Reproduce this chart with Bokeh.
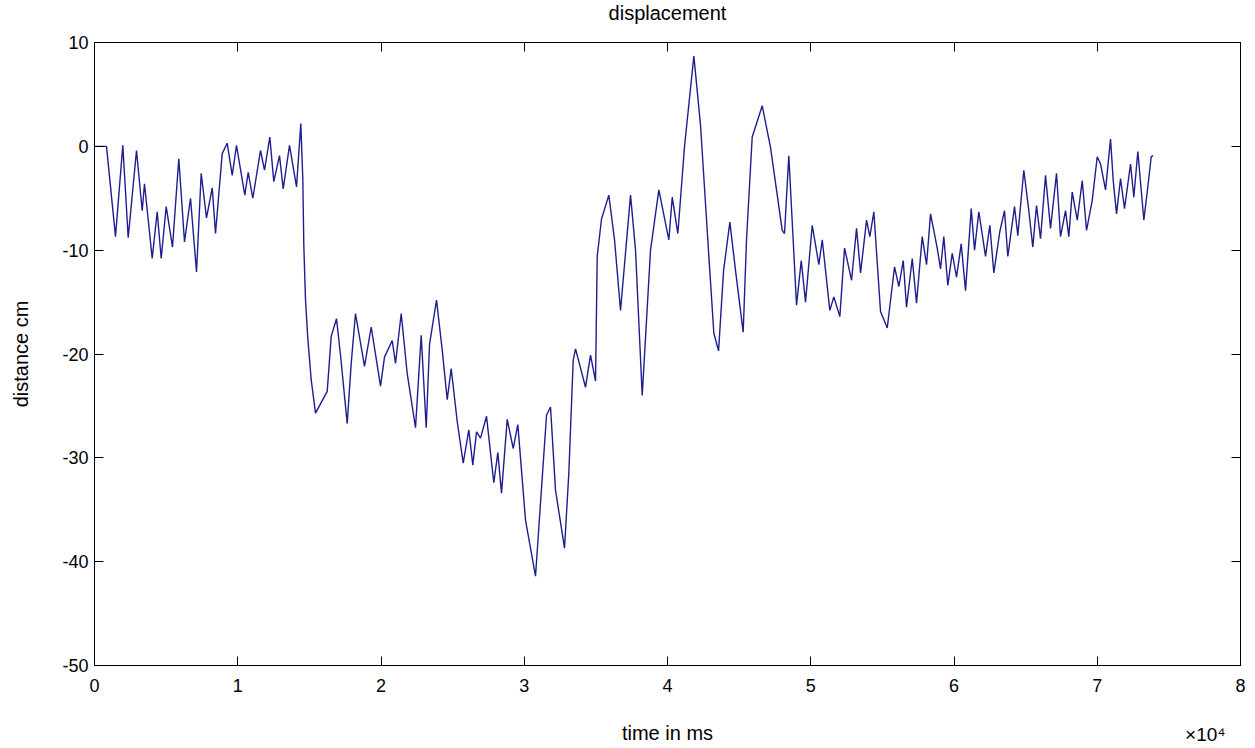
from bokeh.plotting import figure
from bokeh.models import LinearAxis, FixedTicker, Range1d, Title
from bokeh.embed import file_html
from bokeh.resources import INLINE

# time in ms and displacement in cm
time_ms = [0, 838, 1466, 1976, 2353, 2932, 3330, 3490, 4028, 4377, 4656, 5005, 5445, 5885,
           6283, 6702, 7121, 7449, 7819, 8217, 8447, 8915, 9264, 9613, 9913, 10492, 10730,
           11051, 11588, 11868, 12238, 12517, 12915, 13173, 13613, 14102, 14402,
           14541, 14611, 14730, 14891, 15128, 15428, 16245, 16524, 16894, 17173, 17641,
           17920, 18220, 18849, 19316, 19966, 20245, 20782, 21013, 21411, 21830, 22409,
           22807, 23156, 23386, 23875, 24273, 24622, 24901, 25320, 25739, 26130, 26409,
           26668, 26947, 27366, 27875, 28155, 28413, 28811, 29230, 29551, 30088, 30786,
           31554, 31833, 32182, 32810, 33111, 33418, 33579, 34277, 34626, 34975, 35094,
           35394, 35904, 36302, 36721, 37419, 37768, 38235, 38815, 39396, 40094, 40331,
           40722, 41189, 41840, 42307, 42887, 43236, 43564, 43913, 44353, 44751, 45283,
           45516, 45913, 46612, 47191, 48008, 48168, 48468, 49008, 49337, 49635, 50104,
           50565, 50803, 51332, 51612, 52031, 52360, 52849, 53197, 53477, 53896, 54126,
           54405, 54685, 54872, 55340, 55850, 56150, 56456, 56687, 57085, 57384, 57782,
           58083, 58362, 58829, 59060, 59289, 59568, 59876, 60177, 60504, 60805, 61203,
           61433, 61733, 62201, 62501, 62780, 63199, 63527, 63757, 64225, 64455, 64874,
           65223, 65502, 65760, 66040, 66389, 66738, 67157, 67436, 67785, 68016, 68253,
           68603, 68952, 69252, 69650, 69999, 70229, 70578, 70927, 71116, 71346, 71625,
           71904, 72323, 72553, 72833, 73252, 73489, 73768, 73908]
distance_cm = [0, 0, -8.7, 0.1, -8.8, -0.4, -6.2, -3.6, -10.8, -6.3, -10.8, -5.8, -9.7, -1.2,
               -9.2, -5.0, -12.1, -2.6, -6.9, -4.0, -8.4, -0.7, 0.3, -2.8, 0.1, -4.7, -2.5,
               -5.0, -0.4, -2.3, 0.9, -3.4, -0.9, -4.1, 0.1, -3.9, 2.2,
               -3.1, -9.5, -14.8, -18.5, -22.5, -25.7, -23.6, -18.3, -16.6, -20.1, -26.7,
               -20.9, -16.1, -21.2, -17.4, -23.1, -20.3, -18.7, -20.9, -16.1, -21.9, -27.1,
               -18.2, -27.1, -19.1, -14.8, -19.6, -24.4, -21.4, -26.5, -30.5, -27.3, -30.7,
               -27.5, -28.1, -26.0, -32.4, -29.5, -33.4, -26.3, -29.1, -26.8, -36.0, -41.4,
               -25.9, -25.1, -33.1, -38.7, -31.5, -20.6, -19.5, -23.2, -20.1, -22.6, -10.6,
               -7.0, -4.7, -9.0, -15.8, -4.7, -10.0, -24.0, -10.0, -4.2, -9.0, -4.9,
               -8.4, 0.0, 8.7, 2.0, -10.6, -18.0, -19.7, -12.0, -7.3, -12.0, -17.9,
               -9.0, 0.9, 3.9, -0.1, -8.1, -8.4, -0.9, -15.3, -11.0, -15.0, -7.6,
               -11.4, -9.0, -15.8, -14.5, -16.4, -9.8, -12.9, -7.9, -12.2, -7.1, -8.7,
               -6.3, -12.1, -15.9, -17.5, -11.6, -13.5, -11.0, -15.5, -10.8, -15.1, -8.7,
               -11.4, -6.5, -9.8, -11.8, -8.7, -13.4, -10.3, -12.6, -9.4, -13.9, -6.0,
               -10.0, -6.3, -10.6, -7.6, -12.2, -8.2, -6.2, -10.6, -5.8, -8.6, -2.3,
               -6.2, -9.7, -5.7, -8.9, -2.8, -7.9, -2.6, -8.7, -6.2, -8.7, -4.4,
               -7.1, -3.3, -8.1, -5.2, -1.0, -1.7, -4.2, 0.7, -3.3, -6.5, -3.1,
               -6.0, -1.7, -4.9, -0.5, -7.1, -4.4, -1.0, -0.9]

x_ticks = [0, 10000, 20000, 30000, 40000, 50000, 60000, 70000, 80000]
x_tick_labels = ["0", "1", "2", "3", "4", "5", "6", "7", "8"]
y_ticks = [-50, -40, -30, -20, -10, 0, 10]
y_tick_labels = ["-50", "-40", "-30", "-20", "-10", "0", "10"]

FONT = "Liberation Sans"

p = figure(width=1255, height=748, output_backend="svg", toolbar_location=None,
           x_range=Range1d(0, 80000), y_range=Range1d(-50, 10),
           min_border_left=94, min_border_right=15, min_border_top=42, min_border_bottom=83,
           background_fill_color="white", border_fill_color="white")
p.outline_line_color = "black"
p.xgrid.visible = False
p.ygrid.visible = False

# trailing empty line lifts the title towards the top edge without enlarging the border
p.title.text = "displacement\n"
p.title.align = "center"
p.title.text_font = FONT
p.title.text_font_style = "normal"
p.title.text_font_size = "20px"
p.title.text_color = "black"
p.title.text_line_height = 1.2
p.title.standoff = -16

p.line(time_ms, distance_cm, line_color="#1e1e8e", line_width=1.4)

def style_axis(ax, labels=True):
    ax.axis_line_color = "black"
    ax.major_tick_in = 9
    ax.major_tick_out = 0
    ax.minor_tick_line_color = None
    ax.major_tick_line_color = "black"
    ax.major_label_text_font = FONT
    ax.major_label_text_color = "black"
    ax.axis_label_text_font = FONT
    ax.axis_label_text_font_style = "normal"
    ax.axis_label_text_color = "black"
    if labels:
        ax.major_label_text_font_size = "18px"
        ax.axis_label_text_font_size = "20px"
    else:
        ax.major_label_text_font_size = "0px"
        ax.major_label_standoff = 0

xa = p.xaxis[0]
xa.ticker = FixedTicker(ticks=x_ticks)
xa.major_label_overrides = {t: l for t, l in zip(x_ticks, x_tick_labels)}
style_axis(xa)
xa.major_label_standoff = 13

ya = p.yaxis[0]
ya.ticker = FixedTicker(ticks=y_ticks)
ya.major_label_overrides = {t: l for t, l in zip(y_ticks, y_tick_labels)}
ya.axis_label = "distance cm"
style_axis(ya)
ya.major_label_standoff = 6
ya.axis_label_standoff = 27

top = LinearAxis(ticker=FixedTicker(ticks=x_ticks))
style_axis(top, labels=False)
p.add_layout(top, "above")
right = LinearAxis(ticker=FixedTicker(ticks=y_ticks))
style_axis(right, labels=False)
p.add_layout(right, "right")

# exponent note (leading empty line puts it on the same row as the x label)
exp_title = Title(text="\n\u00d710\u2074", align="right", vertical_align="top",
                  text_font=FONT, text_font_style="normal", text_font_size="19px",
                  text_color="black", text_line_height=2.14, standoff=-30, offset=15)
p.add_layout(exp_title, "below")

xlabel_title = Title(text="time in ms", align="center", vertical_align="top",
                     text_font=FONT, text_font_style="normal", text_font_size="20px",
                     text_color="black", standoff=-21)
p.add_layout(xlabel_title, "below")

open("out.html", "w").write(file_html(p, INLINE))
